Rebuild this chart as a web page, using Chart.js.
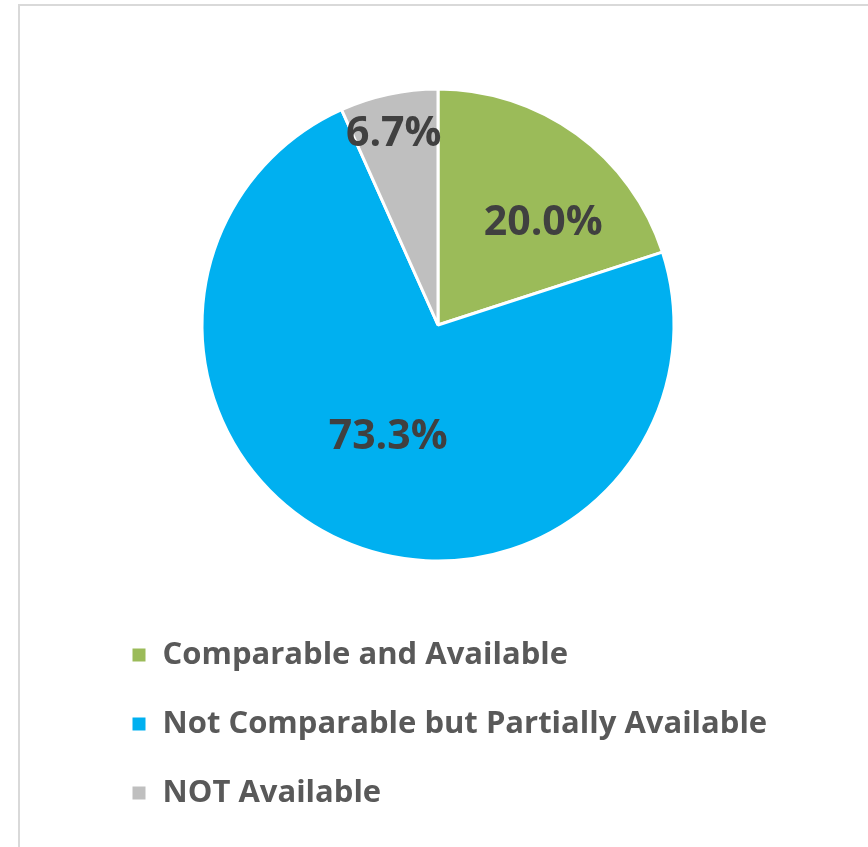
<!DOCTYPE html>
<html>
<head>
<meta charset="utf-8">
<title>Availability pie</title>
<script src="https://cdn.jsdelivr.net/npm/chart.js@4/dist/chart.umd.min.js"></script>
<style>
    html, body { margin: 0; padding: 0; background: #ffffff; }
    #wrap { position: relative; width: 868px; height: 847px; overflow: hidden; }
    #frame {
        position: absolute; left: 18px; top: 4px;
        width: 1000px; height: 1000px;
        border: 2px solid #d9d9d9; box-sizing: border-box;
    }
    #availChart { position: absolute; left: 0; top: 0; }
</style>
</head>
<body>
<div id="wrap">
    <div id="frame"></div>
    <canvas id="availChart" width="868" height="847"></canvas>
</div>
<script>
// Data
const categories = ['Comparable and Available', 'Not Comparable but Partially Available', 'NOT Available'];
const shares = [20.0, 73.3, 6.7];
const sliceColors = ['#9BBB59', '#00B0F0', '#BFBFBF'];

// where each percentage label sits (fraction of radius, angle nudge in degrees)
const labelSpots = [
    { r: 0.62, da: 10 },
    { r: 0.52, da: 0 },
    { r: 0.83, da: -1 }
];

// Draw the % labels on the slices
const sliceLabels = {
    id: 'sliceLabels',
    afterDatasetsDraw(chart) {
        const ctx = chart.ctx;
        const meta = chart.getDatasetMeta(0);
        ctx.save();
        ctx.font = 'bold 41px "Open Sans"';
        ctx.fillStyle = '#404040';
        ctx.textAlign = 'center';
        ctx.textBaseline = 'middle';
        meta.data.forEach((arc, i) => {
            const p = arc.getProps(['x', 'y', 'startAngle', 'endAngle', 'outerRadius'], true);
            const spot = labelSpots[i];
            const mid = (p.startAngle + p.endAngle) / 2 + spot.da * Math.PI / 180;
            const lx = p.x + Math.cos(mid) * p.outerRadius * spot.r;
            const ly = p.y + Math.sin(mid) * p.outerRadius * spot.r;
            ctx.fillText(shares[i].toFixed(1) + '%', lx, ly);
        });
        ctx.restore();
    }
};

const ctx = document.getElementById('availChart').getContext('2d');
new Chart(ctx, {
    type: 'pie',
    data: {
        labels: categories,
        datasets: [{
            data: shares,
            backgroundColor: sliceColors,
            borderColor: '#ffffff',
            borderWidth: 3,
            radius: 236
        }]
    },
    options: {
        responsive: false,
        animation: false,
        layout: {
            padding: { top: 48.5, left: 93, right: 85, bottom: 28.5 }
        },
        plugins: {
            legend: {
                position: 'bottom',
                align: 'start',
                labels: {
                    boxWidth: 16,
                    boxHeight: 16,
                    padding: 38,
                    color: '#595959',
                    font: { family: '"Open Sans"', size: 31, weight: 'bold' }
                }
            },
            tooltip: { enabled: false }
        }
    },
    plugins: [sliceLabels]
});
</script>
</body>
</html>
